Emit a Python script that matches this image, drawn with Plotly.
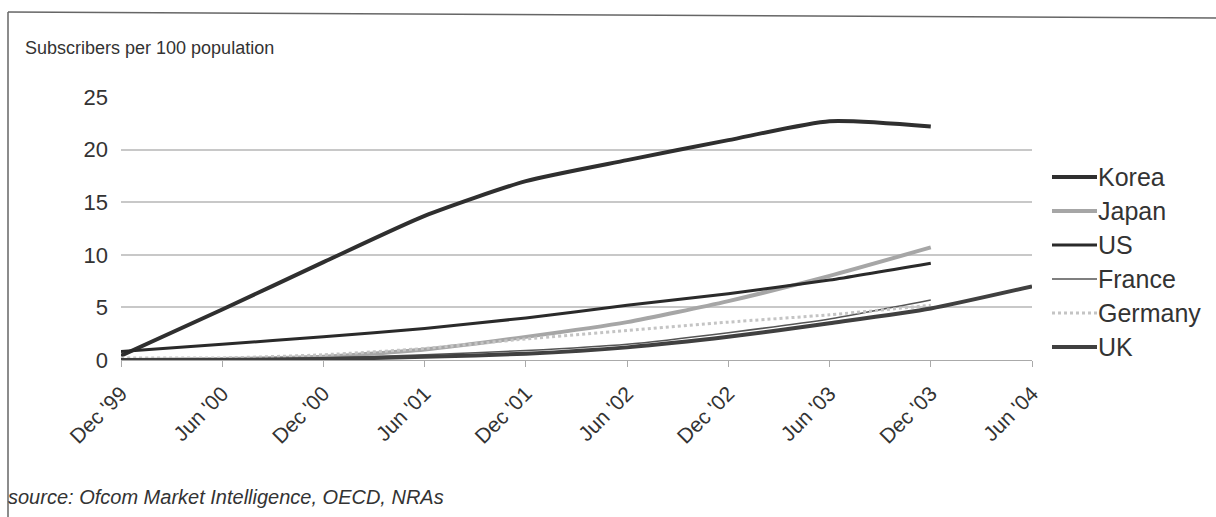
import plotly.graph_objects as go

periods = ["Dec '99", "Jun '00", "Dec '00", "Jun '01", "Dec '01", "Jun '02",
           "Dec '02", "Jun '03", "Dec '03", "Jun '04"]

korea   = [0.4, 4.8, 9.3, 13.7, 17.0, 19.0, 20.9, 22.7, 22.2, None]
japan   = [0.0, 0.1, 0.3, 1.0, 2.2, 3.6, 5.6, 8.0, 10.7, None]
us      = [0.8, 1.5, 2.2, 3.0, 4.0, 5.2, 6.3, 7.6, 9.2, None]
france  = [0.1, 0.1, 0.2, 0.5, 0.9, 1.5, 2.6, 3.9, 5.7, None]
germany = [0.2, 0.2, 0.5, 1.1, 2.0, 2.8, 3.6, 4.3, 5.2, None]
uk      = [0.0, 0.0, 0.1, 0.3, 0.6, 1.2, 2.2, 3.5, 4.9, 7.0]

series_names = ["Korea", "Japan", "US", "France", "Germany", "UK"]
series_values = [korea, japan, us, france, germany, uk]
series_styles = [
    dict(color="#2f2f2f", width=4),
    dict(color="#a6a6a6", width=4),
    dict(color="#2a2a2a", width=3),
    dict(color="#555555", width=1.5),
    dict(color="#c4c4c4", width=3, dash="dot"),
    dict(color="#404040", width=4),
]

xs = list(range(len(periods)))
fig = go.Figure()
for name, vals, line in zip(series_names, series_values, series_styles):
    fig.add_trace(go.Scatter(x=xs, y=vals, name=name, mode="lines",
                             line=dict(shape="spline", smoothing=0.6, **line),
                             connectgaps=False, showlegend=False))

W, H = 1216, 517
L, R, T, B = 121, 1032, 97, 360

def px(x):
    return (x - L) / (R - L)

def py(y):
    return (B - y) / (B - T)

font_family = "Liberation Sans, Arial, sans-serif"
text_color = "#333333"

annotations = [
    dict(text="Subscribers per 100 population", xref="paper", yref="paper",
         x=px(23), y=py(48), xanchor="left", yanchor="middle", showarrow=False,
         font=dict(size=18, color=text_color)),
    dict(text="<i>source: Ofcom Market Intelligence, OECD, NRAs</i>", xref="paper",
         yref="paper", x=px(6), y=py(497), xanchor="left", yanchor="middle",
         showarrow=False, font=dict(size=20, color=text_color)),
]
shapes = [
    dict(type="line", xref="paper", yref="paper", x0=px(8), x1=px(1216),
         y0=py(12), y1=py(18), line=dict(color="#666666", width=1.5)),
    dict(type="line", xref="paper", yref="paper", x0=px(8), x1=px(8),
         y0=py(12), y1=py(517), line=dict(color="#666666", width=1.5)),
]

# manual legend (long line samples as in the reference)
leg_y0, leg_dy = 177, 34
for i, (name, line) in enumerate(zip(series_names, series_styles)):
    yy = leg_y0 + i * leg_dy
    shapes.append(dict(type="line", xref="paper", yref="paper",
                       x0=px(1052), x1=px(1097), y0=py(yy), y1=py(yy),
                       line=line))
    annotations.append(dict(text=name, xref="paper", yref="paper",
                            x=px(1096), y=py(yy), xanchor="left", yanchor="middle",
                            showarrow=False, font=dict(size=25, color=text_color)))

fig.update_layout(
    width=W, height=H,
    margin=dict(l=L, r=W - R, t=T, b=H - B, autoexpand=False),
    paper_bgcolor="white", plot_bgcolor="white",
    font=dict(family=font_family, size=18, color=text_color),
    showlegend=False,
    xaxis=dict(range=[0, 9], tickmode="array", tickvals=xs, ticktext=periods,
               tickangle=-45, showgrid=False, showline=True, linecolor="#aaaaaa",
               linewidth=1, ticks="outside", ticklen=6, tickcolor="#aaaaaa",
               ticklabelstandoff=6,
               tickfont=dict(size=21, color=text_color), zeroline=False),
    yaxis=dict(range=[0, 25], tickvals=[0, 5, 10, 15, 20, 25], showgrid=True,
               gridcolor="#c8c8c8", gridwidth=1.5, zeroline=False, showline=False,
               ticks="", ticklen=0, ticklabelstandoff=12,
               tickfont=dict(size=22, color=text_color)),
    annotations=annotations,
    shapes=shapes,
)

fig.write_html("out.html", config={"displayModeBar": False},
               post_script="document.body.style.margin='0';document.body.style.overflow='hidden';")
